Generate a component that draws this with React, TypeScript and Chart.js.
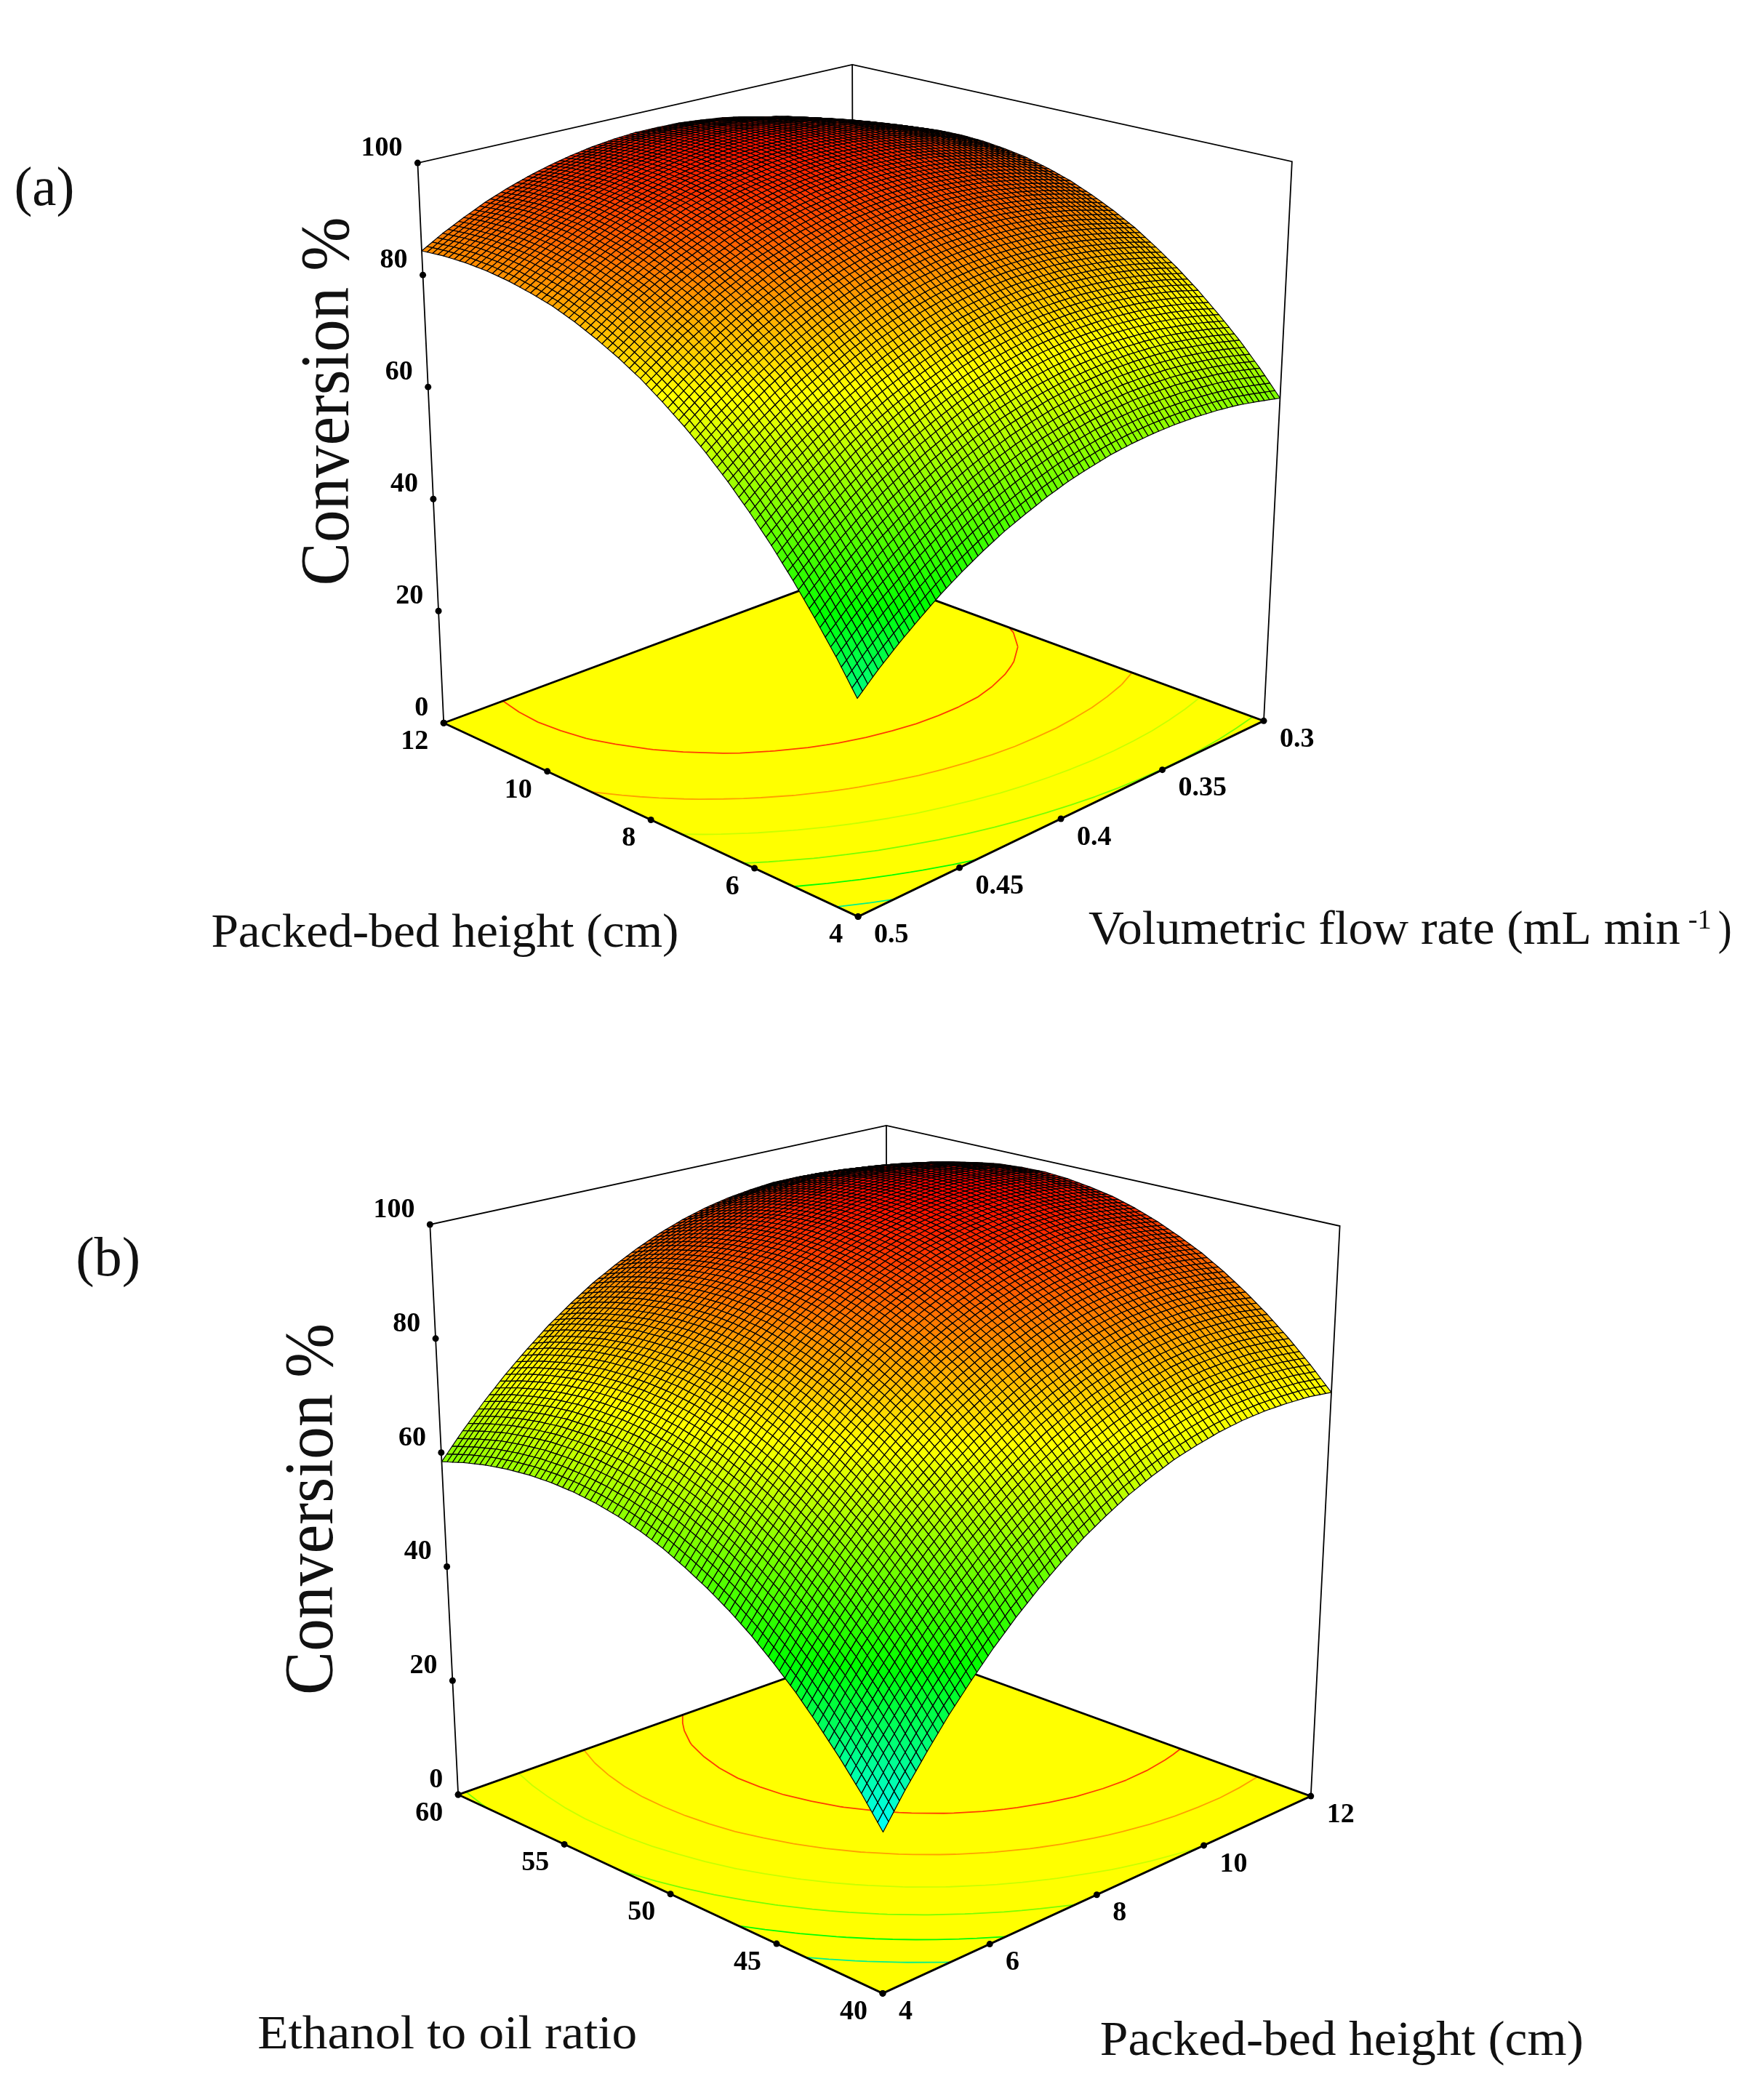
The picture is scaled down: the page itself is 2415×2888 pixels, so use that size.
import { useEffect, useRef } from 'react'
import { Chart, registerables } from 'chart.js'

Chart.register(...registerables)

// panel (a): rows follow bedHeightA, columns follow flowRate
const bedHeightA = [4, 4.4, 4.8, 5.2, 5.6, 6, 6.4, 6.8, 7.2, 7.6, 8, 8.4, 8.8, 9.2, 9.6, 10, 10.4, 10.8, 11.2, 11.6, 12]
const flowRate = [0.5, 0.49, 0.48, 0.47, 0.46, 0.45, 0.44, 0.43, 0.42, 0.41, 0.4, 0.39, 0.38, 0.37, 0.36, 0.35, 0.34, 0.33, 0.32, 0.31, 0.3]
const conversionA = [
  [34.6, 37.8, 40.7, 43.4, 46.0, 48.3, 50.4, 52.3, 53.9, 55.4, 56.7, 57.7, 58.6, 59.2, 59.6, 59.8, 59.8, 59.6, 59.2, 58.5, 57.7],
  [39.9, 43.0, 45.9, 48.5, 51.0, 53.3, 55.3, 57.2, 58.8, 60.2, 61.4, 62.4, 63.2, 63.8, 64.2, 64.3, 64.3, 64.0, 63.6, 62.9, 62.0],
  [44.8, 47.9, 50.7, 53.4, 55.8, 58.0, 60.0, 61.8, 63.4, 64.8, 65.9, 66.9, 67.6, 68.1, 68.5, 68.6, 68.5, 68.2, 67.6, 66.9, 66.0],
  [49.5, 52.5, 55.3, 57.9, 60.3, 62.4, 64.4, 66.1, 67.7, 69.0, 70.1, 71.0, 71.7, 72.2, 72.4, 72.5, 72.3, 72.0, 71.4, 70.6, 69.6],
  [53.9, 56.8, 59.6, 62.1, 64.5, 66.6, 68.5, 70.2, 71.6, 72.9, 74.0, 74.8, 75.5, 75.9, 76.1, 76.1, 75.9, 75.5, 74.9, 74.1, 73.0],
  [58.0, 60.9, 63.6, 66.1, 68.4, 70.4, 72.3, 73.9, 75.3, 76.6, 77.6, 78.4, 79.0, 79.4, 79.5, 79.5, 79.2, 78.8, 78.1, 77.2, 76.1],
  [61.8, 64.6, 67.3, 69.7, 71.9, 74.0, 75.8, 77.4, 78.7, 79.9, 80.9, 81.6, 82.2, 82.5, 82.6, 82.5, 82.2, 81.7, 81.0, 80.1, 78.9],
  [65.3, 68.1, 70.7, 73.1, 75.3, 77.2, 79.0, 80.5, 81.9, 83.0, 83.9, 84.6, 85.1, 85.4, 85.4, 85.3, 85.0, 84.4, 83.6, 82.6, 81.5],
  [68.5, 71.3, 73.8, 76.1, 78.3, 80.2, 81.9, 83.4, 84.7, 85.8, 86.6, 87.3, 87.7, 87.9, 88.0, 87.8, 87.4, 86.8, 86.0, 84.9, 83.7],
  [71.4, 74.1, 76.6, 78.9, 81.0, 82.9, 84.5, 86.0, 87.2, 88.2, 89.0, 89.6, 90.0, 90.2, 90.2, 90.0, 89.5, 88.9, 88.0, 86.9, 85.6],
  [74.1, 76.7, 79.2, 81.4, 83.4, 85.2, 86.9, 88.2, 89.4, 90.4, 91.2, 91.7, 92.1, 92.2, 92.1, 91.8, 91.4, 90.6, 89.7, 88.6, 87.3],
  [76.4, 79.0, 81.4, 83.6, 85.6, 87.3, 88.9, 90.2, 91.4, 92.3, 93.0, 93.5, 93.8, 93.9, 93.8, 93.4, 92.9, 92.1, 91.2, 90.0, 88.6],
  [78.4, 81.0, 83.4, 85.5, 87.4, 89.1, 90.7, 91.9, 93.0, 93.9, 94.6, 95.0, 95.3, 95.3, 95.1, 94.8, 94.2, 93.3, 92.3, 91.1, 89.7],
  [80.2, 82.7, 85.0, 87.1, 89.0, 90.6, 92.1, 93.4, 94.4, 95.2, 95.8, 96.2, 96.4, 96.4, 96.2, 95.8, 95.1, 94.3, 93.2, 91.9, 90.4],
  [81.7, 84.1, 86.4, 88.4, 90.2, 91.9, 93.3, 94.5, 95.5, 96.2, 96.8, 97.2, 97.3, 97.2, 97.0, 96.5, 95.8, 94.9, 93.8, 92.4, 90.9],
  [82.8, 85.2, 87.4, 89.4, 91.2, 92.8, 94.1, 95.3, 96.2, 97.0, 97.5, 97.8, 97.9, 97.8, 97.4, 96.9, 96.2, 95.2, 94.0, 92.7, 91.1],
  [83.7, 86.1, 88.2, 90.2, 91.9, 93.4, 94.7, 95.8, 96.7, 97.4, 97.9, 98.1, 98.2, 98.0, 97.6, 97.0, 96.3, 95.2, 94.0, 92.6, 91.0],
  [84.3, 86.6, 88.7, 90.6, 92.3, 93.8, 95.0, 96.1, 96.9, 97.5, 98.0, 98.2, 98.2, 97.9, 97.5, 96.9, 96.1, 95.0, 93.7, 92.2, 90.6],
  [84.6, 86.9, 88.9, 90.8, 92.4, 93.8, 95.0, 96.0, 96.8, 97.4, 97.8, 97.9, 97.9, 97.6, 97.1, 96.4, 95.6, 94.4, 93.1, 91.6, 89.9],
  [84.6, 86.8, 88.8, 90.6, 92.2, 93.6, 94.7, 95.7, 96.4, 97.0, 97.3, 97.4, 97.3, 97.0, 96.4, 95.7, 94.8, 93.6, 92.2, 90.7, 88.9],
  [84.3, 86.5, 88.4, 90.2, 91.7, 93.0, 94.1, 95.0, 95.7, 96.2, 96.5, 96.5, 96.4, 96.0, 95.5, 94.7, 93.7, 92.5, 91.1, 89.4, 87.6],
]

// panel (b): rows follow ethanolRatio, columns follow bedHeightB
const ethanolRatio = [40, 41, 42, 43, 44, 45, 46, 47, 48, 49, 50, 51, 52, 53, 54, 55, 56, 57, 58, 59, 60]
const bedHeightB = [4, 4.4, 4.8, 5.2, 5.6, 6, 6.4, 6.8, 7.2, 7.6, 8, 8.4, 8.8, 9.2, 9.6, 10, 10.4, 10.8, 11.2, 11.6, 12]
const conversionB = [
  [25.0, 30.1, 34.8, 39.3, 43.4, 47.3, 50.9, 54.2, 57.2, 60.0, 62.4, 64.6, 66.4, 68.0, 69.2, 70.2, 70.9, 71.3, 71.4, 71.3, 70.8],
  [29.6, 34.6, 39.3, 43.7, 47.9, 51.7, 55.3, 58.6, 61.5, 64.2, 66.6, 68.7, 70.6, 72.1, 73.3, 74.3, 75.0, 75.3, 75.4, 75.2, 74.7],
  [33.8, 38.8, 43.5, 47.9, 52.0, 55.8, 59.3, 62.6, 65.5, 68.2, 70.5, 72.6, 74.4, 75.9, 77.1, 78.1, 78.7, 79.0, 79.1, 78.8, 78.3],
  [37.7, 42.7, 47.4, 51.7, 55.8, 59.6, 63.1, 66.3, 69.2, 71.8, 74.2, 76.2, 78.0, 79.4, 80.6, 81.5, 82.1, 82.4, 82.4, 82.2, 81.6],
  [41.4, 46.3, 50.9, 55.3, 59.3, 63.1, 66.5, 69.7, 72.6, 75.2, 77.5, 79.5, 81.2, 82.7, 83.8, 84.7, 85.2, 85.5, 85.5, 85.2, 84.6],
  [44.7, 49.6, 54.2, 58.5, 62.5, 66.2, 69.7, 72.8, 75.7, 78.2, 80.5, 82.5, 84.2, 85.6, 86.7, 87.5, 88.0, 88.3, 88.2, 87.9, 87.3],
  [47.8, 52.6, 57.2, 61.4, 65.4, 69.1, 72.5, 75.6, 78.4, 81.0, 83.2, 85.2, 86.8, 88.2, 89.3, 90.1, 90.6, 90.8, 90.7, 90.3, 89.7],
  [50.5, 55.3, 59.8, 64.1, 68.0, 71.7, 75.0, 78.1, 80.9, 83.4, 85.6, 87.5, 89.2, 90.5, 91.5, 92.3, 92.8, 92.9, 92.8, 92.4, 91.7],
  [52.9, 57.7, 62.2, 66.4, 70.3, 73.9, 77.3, 80.3, 83.1, 85.5, 87.7, 89.6, 91.2, 92.5, 93.5, 94.2, 94.7, 94.8, 94.7, 94.2, 93.5],
  [55.0, 59.8, 64.3, 68.4, 72.3, 75.9, 79.2, 82.2, 84.9, 87.4, 89.5, 91.4, 92.9, 94.2, 95.2, 95.9, 96.3, 96.4, 96.2, 95.7, 95.0],
  [56.9, 61.6, 66.0, 70.2, 74.0, 77.6, 80.8, 83.8, 86.5, 88.9, 91.0, 92.8, 94.4, 95.6, 96.5, 97.2, 97.6, 97.7, 97.4, 97.0, 96.2],
  [58.4, 63.1, 67.5, 71.6, 75.4, 78.9, 82.1, 85.1, 87.8, 90.1, 92.2, 94.0, 95.5, 96.7, 97.6, 98.2, 98.6, 98.6, 98.4, 97.9, 97.0],
  [59.6, 64.2, 68.6, 72.7, 76.5, 80.0, 83.2, 86.1, 88.7, 91.0, 93.1, 94.8, 96.3, 97.5, 98.4, 99.0, 99.3, 99.3, 99.0, 98.4, 97.6],
  [60.5, 65.1, 69.5, 73.5, 77.3, 80.7, 83.9, 86.8, 89.4, 91.7, 93.7, 95.4, 96.8, 98.0, 98.8, 99.4, 99.7, 99.7, 99.3, 98.7, 97.9],
  [61.1, 65.7, 70.0, 74.0, 77.7, 81.2, 84.3, 87.2, 89.7, 92.0, 94.0, 95.7, 97.1, 98.2, 99.0, 99.5, 99.8, 99.7, 99.4, 98.7, 97.8],
  [61.4, 66.0, 70.2, 74.2, 77.9, 81.3, 84.4, 87.2, 89.8, 92.0, 93.9, 95.6, 97.0, 98.0, 98.8, 99.3, 99.5, 99.5, 99.1, 98.4, 97.5],
  [61.4, 66.0, 70.2, 74.1, 77.8, 81.2, 84.2, 87.0, 89.5, 91.7, 93.6, 95.3, 96.6, 97.6, 98.4, 98.9, 99.0, 98.9, 98.5, 97.8, 96.8],
  [61.1, 65.6, 69.8, 73.7, 77.4, 80.7, 83.7, 86.5, 88.9, 91.1, 93.0, 94.6, 95.9, 96.9, 97.6, 98.1, 98.2, 98.1, 97.6, 96.9, 95.9],
  [60.5, 65.0, 69.1, 73.0, 76.6, 79.9, 82.9, 85.6, 88.1, 90.2, 92.1, 93.6, 94.9, 95.9, 96.6, 97.0, 97.1, 96.9, 96.4, 95.7, 94.6],
  [59.6, 64.0, 68.2, 72.0, 75.6, 78.9, 81.8, 84.5, 86.9, 89.0, 90.8, 92.4, 93.6, 94.6, 95.2, 95.6, 95.7, 95.4, 94.9, 94.2, 93.1],
  [58.4, 62.8, 66.9, 70.7, 74.2, 77.5, 80.4, 83.1, 85.4, 87.5, 89.3, 90.8, 92.0, 92.9, 93.5, 93.9, 93.9, 93.7, 93.1, 92.3, 91.2],
]

const conversionTicks = [0, 20, 40, 60, 80, 100]
const bedHeightTicks = [4, 6, 8, 10, 12]
const flowRateTicks = [0.5, 0.45, 0.4, 0.35, 0.3]
const ethanolTicks = [40, 45, 50, 55, 60]
const contourLevels = [40, 50, 60, 70, 80, 90]

// style and layout, all in page pixels
const contourColors = ['#00f08c', '#00ff00', '#78ff00', '#c8ff00', '#ffa000', '#ff3c00']
const colorStops: [number, number[]][] = [
  [25, [0, 255, 255]],
  [45, [0, 255, 0]],
  [72, [255, 255, 0]],
  [100, [255, 0, 0]],
]
const SUBCELLS = 4
const SERIF = '"Liberation Serif"'
const PAGE_W = 2415

type Pt = [number, number]
type Quad = { front: Pt; left: Pt; right: Pt; back: Pt }
type Title = { text: string; x: number; baseline: number; width: number; size: number; rotated?: boolean }

interface Panel {
  name: string
  top: number
  bottom: number
  rowAxis: number[]
  colAxis: number[]
  values: number[][]
  rowTicks: number[]
  colTicks: number[]
  floor: Quad
  roof: Quad
  titles: Title[]
}

const panels: Panel[] = [
  {
    name: 'a',
    top: 0,
    bottom: 1444,
    rowAxis: bedHeightA,
    colAxis: flowRate,
    values: conversionA,
    rowTicks: bedHeightTicks,
    colTicks: flowRateTicks,
    floor: { front: [1180, 1264], left: [608, 996], right: [1740, 993], back: [1174, 785] },
    roof: { front: [1177, 391], left: [572, 221], right: [1779, 219], back: [1172, 85] },
    titles: [
      { text: '(a)', x: 15, baseline: 279, width: 83, size: 76 },
      { text: 'Conversion %', x: 476, baseline: 806, width: 507, size: 96, rotated: true },
      { text: 'Packed-bed height (cm)', x: 287, baseline: 1306, width: 643, size: 65 },
      { text: 'Volumetric flow rate (mL min', x: 1498, baseline: 1302, width: 814, size: 66 },
      { text: '-1', x: 2326, baseline: 1280, width: 32, size: 38 },
      { text: ')', x: 2367, baseline: 1302, width: 19, size: 66 },
    ],
  },
  {
    name: 'b',
    top: 1444,
    bottom: 2888,
    rowAxis: ethanolRatio,
    colAxis: bedHeightB,
    values: conversionB,
    rowTicks: ethanolTicks,
    colTicks: bedHeightTicks,
    floor: { front: [1214, 2745], left: [628, 2470], right: [1805, 2472], back: [1220, 2259] },
    roof: { front: [1216, 1852], left: [589, 1681], right: [1845, 1683], back: [1219, 1544] },
    titles: [
      { text: '(b)', x: 100, baseline: 1751, width: 89, size: 76 },
      { text: 'Conversion %', x: 454, baseline: 2332, width: 511, size: 96, rotated: true },
      { text: 'Ethanol to oil ratio', x: 351, baseline: 2821, width: 522, size: 66 },
      { text: 'Packed-bed height (cm)', x: 1514, baseline: 2830, width: 665, size: 68 },
    ],
  },
]

const frac = (axis: number[], v: number) => (v - axis[0]) / (axis[axis.length - 1] - axis[0])

function onQuad(q: Quad, u: number, v: number): Pt {
  const mix = (i: 0 | 1) =>
    (1 - u) * (1 - v) * q.front[i] + u * (1 - v) * q.left[i] + (1 - u) * v * q.right[i] + u * v * q.back[i]
  return [mix(0), mix(1)]
}

// u runs front->left, v runs front->right, z is conversion %
function project(p: Panel, u: number, v: number, z: number) {
  const a = onQuad(p.floor, u, v)
  const b = onQuad(p.roof, u, v)
  const t = z / 100
  return { x: a[0] + (b[0] - a[0]) * t, y: a[1] + (b[1] - a[1]) * t }
}

function colorFor(z: number) {
  let i = 0
  while (i < colorStops.length - 2 && z > colorStops[i + 1][0]) i++
  const [z0, c0] = colorStops[i]
  const [z1, c1] = colorStops[i + 1]
  const t = Math.min(1, Math.max(0, (z - z0) / (z1 - z0)))
  const c = c0.map((ch, n) => Math.round(ch + (c1[n] - ch) * t))
  return `rgb(${c[0]},${c[1]},${c[2]})`
}

const GAP = { x: NaN, y: NaN }

function contourPoints(p: Panel, level: number) {
  const pts: { x: number; y: number }[] = []
  const { values, rowAxis, colAxis } = p
  for (let k = 0; k < rowAxis.length - 1; k++) {
    for (let m = 0; m < colAxis.length - 1; m++) {
      const u0 = frac(rowAxis, rowAxis[k])
      const u1 = frac(rowAxis, rowAxis[k + 1])
      const v0 = frac(colAxis, colAxis[m])
      const v1 = frac(colAxis, colAxis[m + 1])
      const corners: [number, number, number][] = [
        [u0, v0, values[k][m]],
        [u1, v0, values[k + 1][m]],
        [u1, v1, values[k + 1][m + 1]],
        [u0, v1, values[k][m + 1]],
      ]
      const hits: { x: number; y: number }[] = []
      corners.forEach((c, i) => {
        const d = corners[(i + 1) % 4]
        if (c[2] < level !== d[2] < level) {
          const t = (level - c[2]) / (d[2] - c[2])
          hits.push(project(p, c[0] + (d[0] - c[0]) * t, c[1] + (d[1] - c[1]) * t, 0))
        }
      })
      if (hits.length >= 2) pts.push(hits[0], hits[1], GAP)
    }
  }
  return pts
}

function fittedText(ctx: CanvasRenderingContext2D, t: Title, px: (x: number, y: number) => Pt) {
  ctx.save()
  ctx.font = `${t.size}px ${SERIF}`
  ctx.textAlign = 'left'
  ctx.textBaseline = 'alphabetic'
  const [x, y] = px(t.x, t.baseline)
  ctx.translate(x, y)
  if (t.rotated) ctx.rotate(-Math.PI / 2)
  ctx.scale(t.width / ctx.measureText(t.text).width, 1)
  ctx.fillText(t.text, 0, 0)
  ctx.restore()
}

function SurfacePanel({ panel }: { panel: Panel }) {
  const canvasRef = useRef<HTMLCanvasElement>(null)

  useEffect(() => {
    if (!canvasRef.current) return
    const p = panel
    const corner = (u: number, v: number, z: number) => project(p, u, v, z)

    const surfacePlugin = {
      id: 'surface3d',
      beforeDatasetsDraw(chart: Chart) {
        const { ctx, scales } = chart
        const at = (q: Pt): Pt => [scales.x.getPixelForValue(q[0]), scales.y.getPixelForValue(q[1])]
        const f = p.floor
        ctx.save()
        ctx.fillStyle = '#ffff00'
        ctx.beginPath()
        ;[f.left, f.back, f.right, f.front].forEach((q, i) => {
          const [x, y] = at(q)
          if (i === 0) ctx.moveTo(x, y)
          else ctx.lineTo(x, y)
        })
        ctx.closePath()
        ctx.fill()
        ctx.restore()
      },
      afterDatasetsDraw(chart: Chart) {
        const { ctx, scales } = chart
        const { values, rowAxis, colAxis } = p
        ctx.save()
        ctx.strokeStyle = '#000'
        ctx.lineWidth = 1.2
        ctx.lineJoin = 'round'
        // back to front, so the crest hides what is behind it
        for (let k = rowAxis.length - 2; k >= 0; k--) {
          for (let m = colAxis.length - 2; m >= 0; m--) {
            const pos = (i: number, j: number) => {
              const o = project(p, frac(rowAxis, rowAxis[i]), frac(colAxis, colAxis[j]), values[i][j])
              return [scales.x.getPixelForValue(o.x), scales.y.getPixelForValue(o.y), values[i][j]]
            }
            const c00 = pos(k, m)
            const c10 = pos(k + 1, m)
            const c01 = pos(k, m + 1)
            const c11 = pos(k + 1, m + 1)
            // one table cell is painted as a few mesh cells
            const mesh = (s: number, t: number) =>
              c00.map((_, n) => (1 - s) * (1 - t) * c00[n] + s * (1 - t) * c10[n] + (1 - s) * t * c01[n] + s * t * c11[n])
            for (let s = SUBCELLS - 1; s >= 0; s--) {
              for (let t = SUBCELLS - 1; t >= 0; t--) {
                const a = mesh(s / SUBCELLS, t / SUBCELLS)
                const b = mesh((s + 1) / SUBCELLS, t / SUBCELLS)
                const c = mesh((s + 1) / SUBCELLS, (t + 1) / SUBCELLS)
                const d = mesh(s / SUBCELLS, (t + 1) / SUBCELLS)
                ctx.fillStyle = colorFor((a[2] + b[2] + c[2] + d[2]) / 4)
                ctx.beginPath()
                ctx.moveTo(a[0], a[1])
                ctx.lineTo(b[0], b[1])
                ctx.lineTo(c[0], c[1])
                ctx.lineTo(d[0], d[1])
                ctx.closePath()
                ctx.fill()
                ctx.stroke()
              }
            }
          }
        }
        ctx.restore()
      },
      afterDraw(chart: Chart) {
        const { ctx, scales } = chart
        const px = (x: number, y: number): Pt => [scales.x.getPixelForValue(x), scales.y.getPixelForValue(y)]
        ctx.save()
        ctx.fillStyle = '#000'
        ctx.font = `bold 38px ${SERIF}`
        ctx.textBaseline = 'middle'
        ctx.textAlign = 'right'
        conversionTicks.forEach((z) => {
          const o = corner(1, 0, z)
          const [x, y] = px(o.x - 21, o.y - 20)
          ctx.fillText(String(z), x, y)
        })
        p.rowTicks.forEach((tick) => {
          const o = corner(frac(p.rowAxis, tick), 0, 0)
          const [x, y] = px(o.x - 21, o.y + 26)
          ctx.fillText(String(tick), x, y)
        })
        ctx.textAlign = 'left'
        p.colTicks.forEach((tick) => {
          const o = corner(0, frac(p.colAxis, tick), 0)
          const [x, y] = px(o.x + 22, o.y + 26)
          ctx.fillText(String(tick), x, y)
        })
        ctx.fillStyle = '#111'
        p.titles.forEach((t) => fittedText(ctx, t, px))
        ctx.restore()
      },
    }

    const frame = [
      corner(1, 0, 0), corner(1, 0, 100), corner(1, 1, 100), corner(0, 1, 100), corner(0, 1, 0), GAP,
      corner(1, 1, 0), corner(1, 1, 100),
    ]
    const floorEdge = [corner(1, 0, 0), corner(1, 1, 0), corner(0, 1, 0), corner(0, 0, 0), corner(1, 0, 0)]
    const tickDots = [
      ...conversionTicks.map((z) => corner(1, 0, z)),
      ...p.rowTicks.map((t) => corner(frac(p.rowAxis, t), 0, 0)),
      ...p.colTicks.map((t) => corner(0, frac(p.colAxis, t), 0)),
    ]

    const chart = new Chart(canvasRef.current, {
      type: 'scatter',
      data: {
        datasets: [
          { label: 'ticks', data: tickDots, pointRadius: 4.5, pointBackgroundColor: '#000', pointBorderWidth: 0, showLine: false },
          { label: 'floor', data: floorEdge, showLine: true, borderColor: '#000', borderWidth: 2.8, pointRadius: 0 },
          { label: 'frame', data: frame, showLine: true, borderColor: '#000', borderWidth: 1.8, pointRadius: 0, spanGaps: false },
          ...contourLevels.map((level, i) => ({
            label: String(level),
            data: contourPoints(p, level),
            showLine: true,
            spanGaps: false,
            borderColor: contourColors[i],
            borderWidth: 1.8,
            pointRadius: 0,
          })),
        ],
      },
      options: {
        animation: false,
        responsive: false,
        devicePixelRatio: 1,
        layout: { padding: 0 },
        plugins: { legend: { display: false }, tooltip: { enabled: false } },
        scales: {
          x: { type: 'linear', display: false, min: 0, max: PAGE_W },
          y: { type: 'linear', display: false, min: p.top, max: p.bottom, reverse: true },
        },
      },
      plugins: [surfacePlugin],
    })

    return () => {
      chart.destroy()
    }
  }, [panel])

  return (
    <canvas
      ref={canvasRef}
      width={PAGE_W}
      height={panel.bottom - panel.top}
      style={{ position: 'absolute', left: 0, top: panel.top, display: 'block' }}
    />
  )
}

export default function App() {
  return (
    <div style={{ position: 'absolute', left: 0, top: 0, width: 2415, height: 2888, background: '#fff' }}>
      {panels.map((p) => (
        <SurfacePanel key={p.name} panel={p} />
      ))}
    </div>
  )
}
